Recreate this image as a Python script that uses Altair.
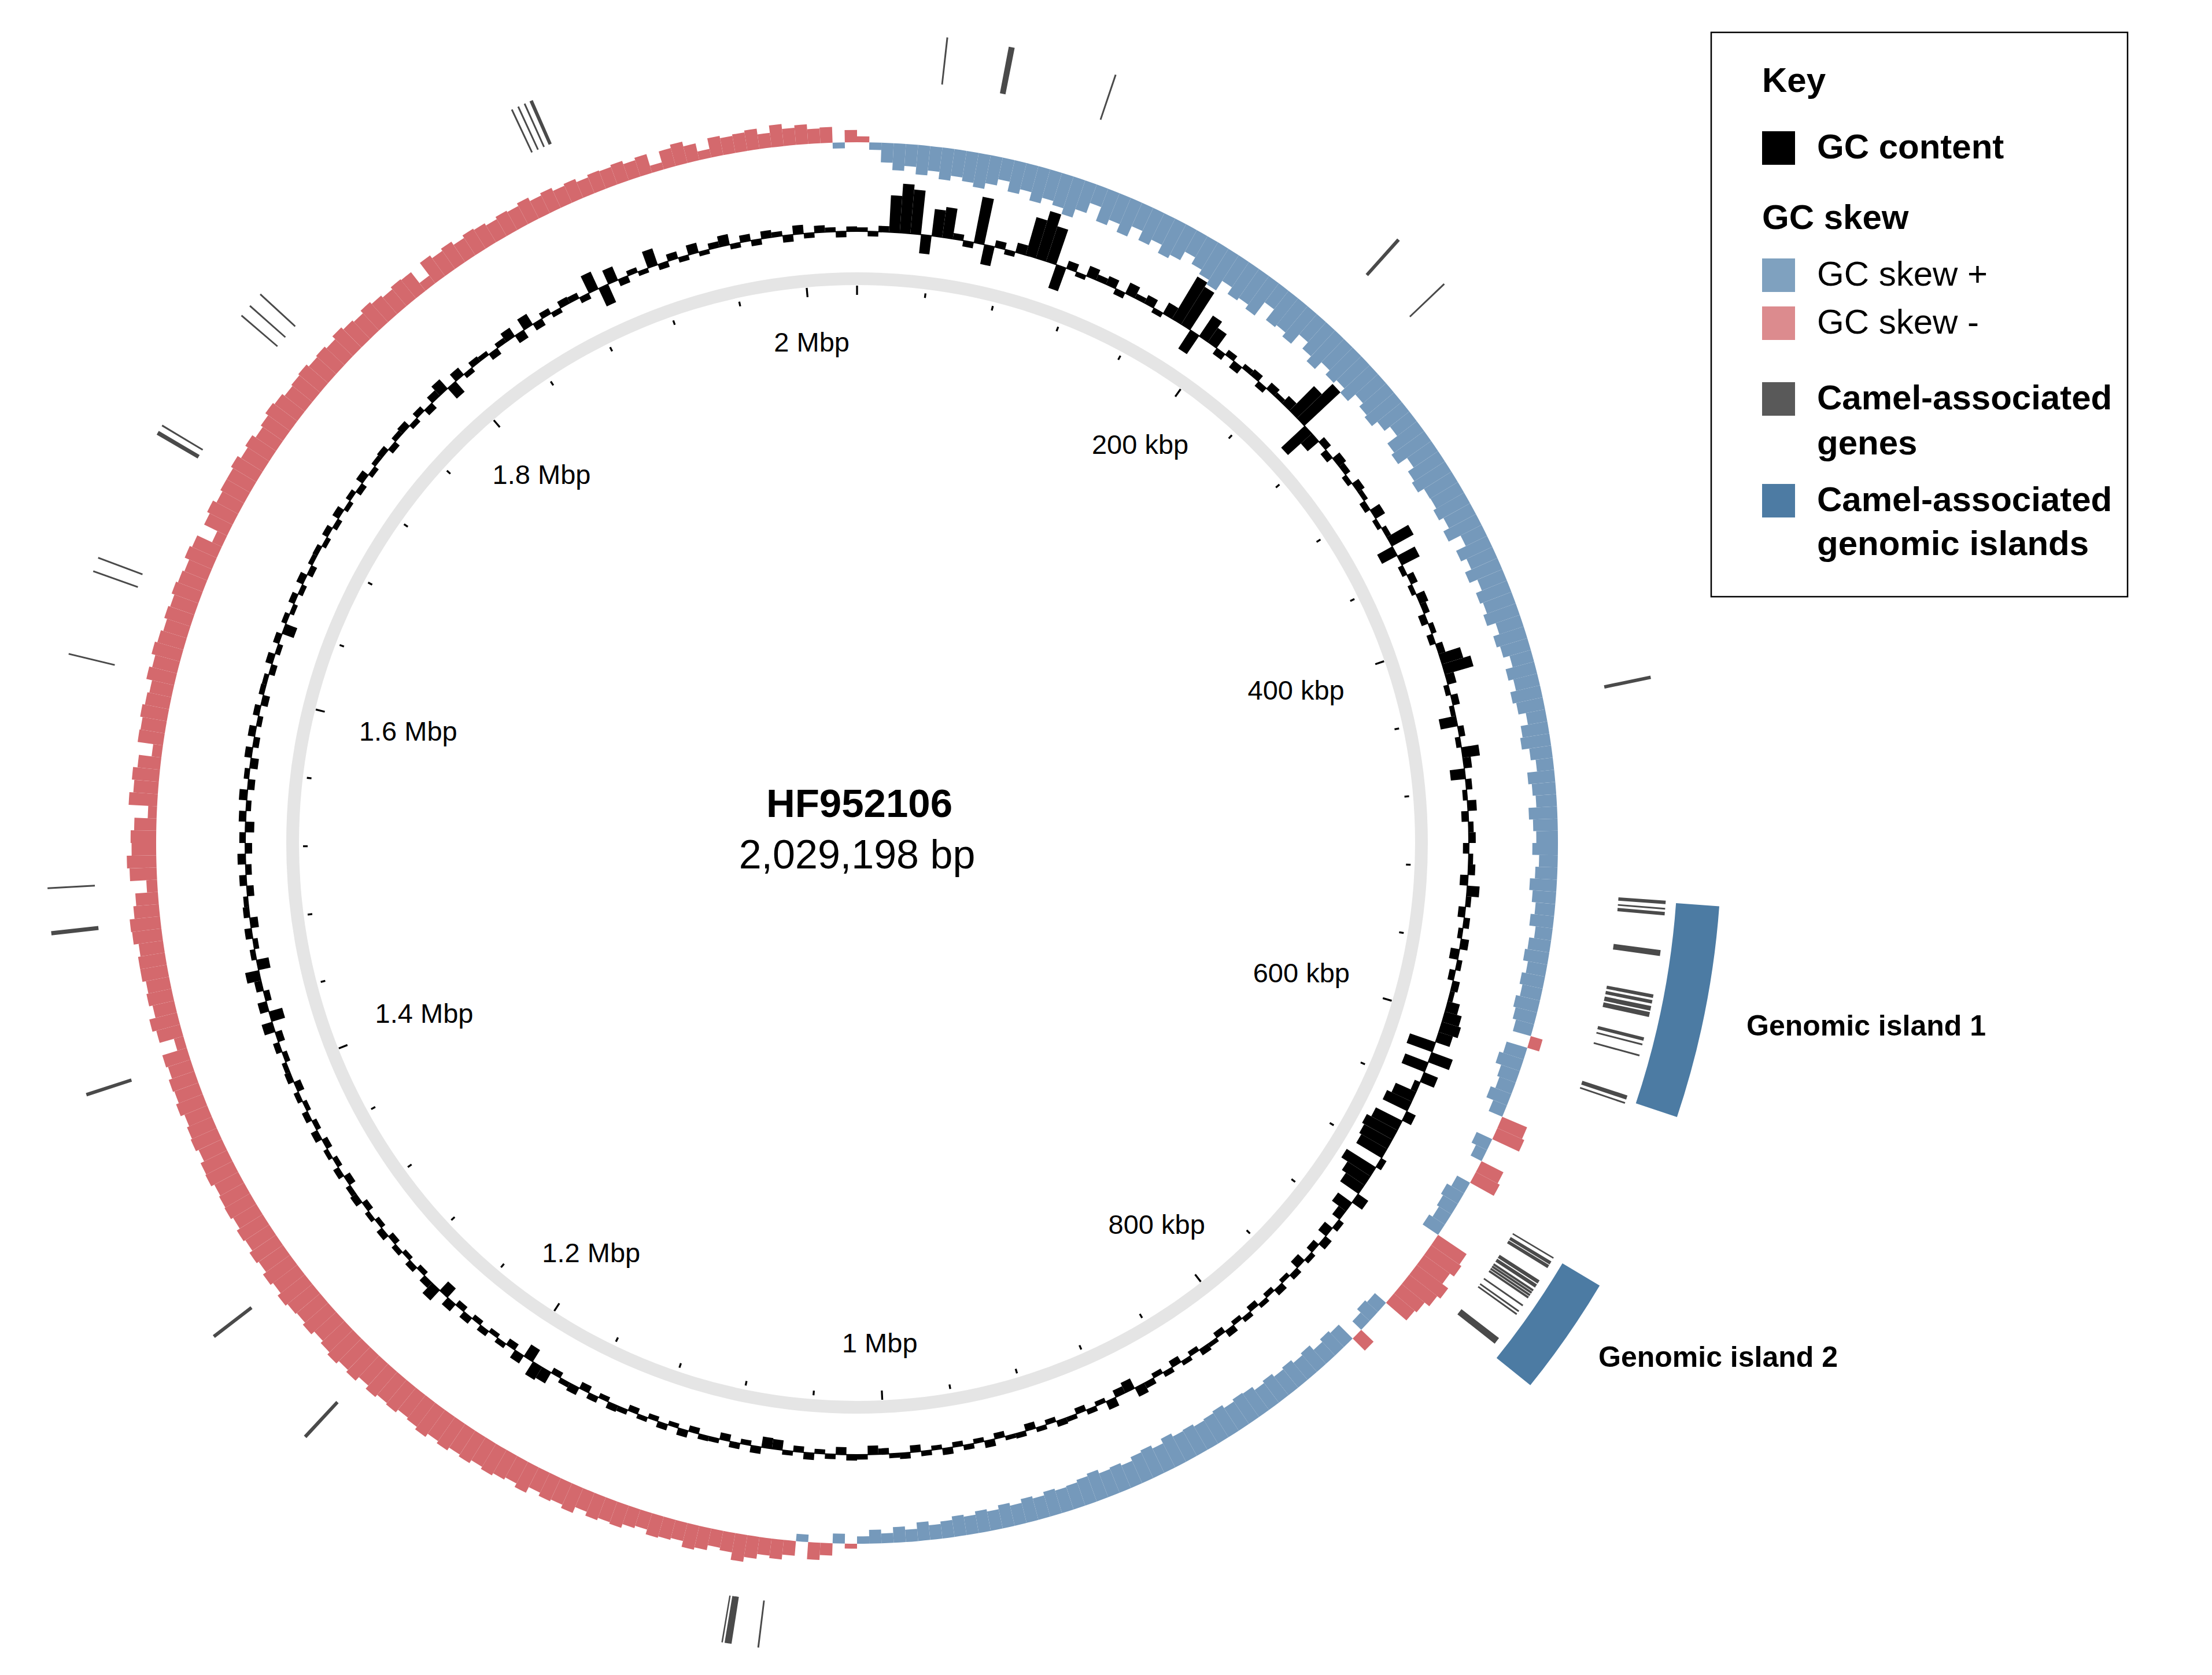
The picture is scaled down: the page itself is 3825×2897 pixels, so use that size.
import math
import pandas as pd
import altair as alt

# ---------------- data ----------------
GENOME_LENGTH = 2029198
SEQ_NAME = "HF952106"
SEQ_LEN_LABEL = "2,029,198 bp"

# GC content deviation, one value per 1/360 of the genome (clockwise from 0)
gc_content = [
    8, -10, 12, 75, 100, 90, -38, 55, 62, 12,
    -12, 95, -40, 14, -10, 20, 80, 100, 75, -50,
    16, -9, 22, 12, 18, -12, 24, 10, 18, -10,
    25, 100, 90, -45, 50, 35, -14, 12, -16, 10,
    14, -12, 16, 9, 20, 70, 100, -65, -30, 14,
    -14, 18, 12, -10, 16, 9, -12, 22, -9, 10,
    50, -35, 40, -10, 14, -9, 18, 12, -14, 10,
    -12, 14, 45, 60, 18, -10, 14, -9, -35, 12,
    -10, 35, 16, -30, 12, -9, 18, -14, 10, 14,
    -12, 9, 14, -16, 25, 10, -14, 12, -9, 16,
    -18, 10, -12, 14, 9, 25, 35, 40, 30, -55,
    45, -50, 30, -12, -45, -55, 20, -60, -70, -65,
    -60, 12, -70, -55, -45, 25, -35, -18, 12, -20,
    16, -14, 10, -18, 12, -9, 14, -10, 9, -12,
    10, -9, 14, -12, 8, 13, -10, 9, -14, 10,
    -10, 12, 20, -22, -15, 18, -9, 10, -12, 9,
    12, -10, 9, -14, 10, 8, -12, 14, -9, 10,
    -10, 13, -9, 10, -14, 12, 9, -12, -18, 10,
    12, -15, 10, -9, 14, -12, 9, -20, -22, 14,
    -10, 12, -14, 9, 10, -12, 14, -9, 12, -10,
    9, -12, 10, 13, -10, 12, -14, 16, 10, -12,
    25, 30, -28, 18, -14, 10, -9, 12, -10, 14,
    -12, 18, -25, 28, 14, -10, 12, -9, 10, -12,
    13, -10, 9, -12, 14, 10, -14, 12, -10, 9,
    -12, 14, -10, 12, -9, 10, -14, 12, 9, -10,
    12, -14, 22, -28, 18, -12, 14, 28, -25, 10,
    -10, 14, -16, 12, 9, -14, 14, -12, 16, -14,
    12, -18, 14, -10, 16, -14, 10, -16, 14, -12,
    14, -10, 12, -14, 10, 9, -12, 14, -10, 12,
    -25, 10, -9, 12, -10, 14, -12, 9, 10, -9,
    12, -10, 14, -9, 10, -12, 15, -10, 9, 12,
    -12, 10, 14, -10, 12, -14, 15, 25, -28, 18,
    -10, 12, 9, -14, 10, 20, -18, 25, -15, 12,
    -10, 14, 12, -12, 38, -40, 30, -14, 10, -9,
    35, -12, 14, -10, 20, -9, 12, 22, -10, 14,
    -12, 15, 10, -14, 18, -10, 14, 9, -12, 10,
]

# GC skew, same bins (positive = blue, drawn inward; negative = red, drawn outward)
gc_skew = [
    -12, 15, 40, 55, 45, 60, 50, 65, 55, 62,
    70, 58, 45, 65, 55, 72, 60, 68, 80, 62,
    40, 70, 58, 75, 52, 72, 60, 78, 70, 50,
    65, 75, 85, 62, 78, 72, 82, 48, 75, 70,
    80, 55, 72, 85, 66, 78, 70, 82, 62, 72,
    78, 64, 50, 75, 82, 60, 74, 80, 66, 65,
    72, 62, 75, 48, 70, 58, 72, 55, 68, 62,
    70, 52, 65, 58, 45, 60, 50, 62, 55, 40,
    55, 60, 45, 35, 55, 48, 42, 58, 50, 44,
    52, 38, 45, 55, 48, 40, 48, 35, 45, 50,
    40, 48, 42, 50, 45, 38, -25, 44, 52, 40,
    35, 45, 30, -55, -60, 35, 25, -50, -55, 30,
    40, 35, 30, 38, -70, -75, -65, -80, -72, -60,
    -55, 30, 35, 25, -35, 40, 45, 38, 50, 45,
    52, 48, 55, 50, 58, 60, 55, 62, 58, 55,
    60, 58, 65, 55, 62, 58, 50, 55, 52, 60,
    55, 50, 48, 52, 45, 50, 42, 48, 40, 45,
    38, 42, 35, 30, 38, 25, 32, 20, 28, 15,
    -10, 20, -25, -35, 15, -30, -40, -35, -45, -55,
    -40, -35, -45, -50, -38, -42, -45, -35, -40, -48,
    -45, -50, -42, -55, -48, -52, -45, -58, -50, -55,
    -60, -55, -62, -58, -65, -60, -68, -62, -58, -65,
    -62, -68, -60, -70, -65, -72, -66, -60, -68, -62,
    -65, -70, -62, -68, -60, -65, -58, -62, -55, -60,
    -58, -55, -62, -60, -52, -58, -55, -50, -58, -52,
    -55, -48, -52, -20, -50, -58, -45, -52, -48, -55,
    -55, -50, -60, -62, -52, -46, -22, -55, -60, -50,
    -52, -45, -18, -58, -50, -55, -46, -20, -52, -50,
    -55, -50, -46, -58, -52, -60, -55, -50, -56, -52,
    -58, -54, -50, -60, -55, -22, -52, -58, -50, -55,
    -55, -60, -52, -58, -50, -55, -62, -58, -52, -55,
    -58, -52, -55, -50, -58, -52, -48, -55, -50, -45,
    -50, -48, -20, -52, -45, -50, -42, -48, -45, -40,
    -45, -42, -48, -40, -45, -38, -42, -35, -40, -38,
    -42, -35, -40, -15, -38, -45, -35, -18, -40, -35,
    -38, -42, -30, -45, -35, -40, -30, -32, 12, -25,
]

major_tick_bp = [0, 200000, 400000, 600000, 800000, 1000000,
                 1200000, 1400000, 1600000, 1800000, 2000000]
major_tick_labels = ["", "200 kbp", "400 kbp", "600 kbp", "800 kbp", "1 Mbp",
                     "1.2 Mbp", "1.4 Mbp", "1.6 Mbp", "1.8 Mbp", "2 Mbp"]
minor_tick_bp = [p for p in range(40000, 2000000, 40000) if p % 200000 != 0]

# camel-associated genes (start, end in bp)
camel_genes = [
    (35700, 36400), (60800, 63200), (104500, 105200), (235500, 236900),
    (261200, 261900), (440100, 441500),
    (530300, 531700), (533200, 533900), (534800, 536200), (550100, 552500),
    (568000, 569400), (570300, 571700), (572700, 574600), (575200, 577200),
    (585500, 586900), (588100, 588800), (592600, 593300), (609600, 611300),
    (612400, 613100),
    (680600, 681200), (682500, 683900), (684200, 685600), (691400, 692900),
    (693300, 694800), (695700, 696600), (696800, 697700), (697950, 698850),
    (699100, 700000), (703100, 703800), (705900, 706600), (707300, 708000),
    (719500, 722300),
    (1053700, 1054400), (1064800, 1067600), (1068300, 1068900),
    (1255700, 1257100), (1309800, 1311200), (1419200, 1420600),
    (1485000, 1486700), (1503500, 1504200), (1597600, 1598300),
    (1632000, 1632700), (1637700, 1638400), (1692400, 1694100),
    (1696300, 1697000), (1750400, 1751100), (1755500, 1756200),
    (1761700, 1762400), (1886800, 1887500), (1889600, 1890300),
    (1892400, 1893100), (1894900, 1896300),
]

island_labels = ["Genomic island 1", "Genomic island 2"]
island_start = [531000, 680900]
island_end = [611500, 726300]

legend_items = ["GC content", "GC skew +", "GC skew -",
                "Camel-associated genes", "Camel-associated genomic islands"]

# ---------------- styles / layout ----------------
FONT = "Liberation Sans"
C_BLUE_BAR = "#7599BB"
C_RED_BAR = "#D4696D"
C_GENE = "#4A4A4A"
C_ISLAND = "#4C7BA3"
C_RING = "#E5E5E5"
legend_colors = ["#000000", "#7FA1BF", "#DC8B8E", "#595959", "#4D7BA3"]

CX, CY = 1474, 1450
theta_scale = alt.Scale(domain=[0, GENOME_LENGTH], range=[0, 2 * math.pi])


def centred(ch):
    return ch.encode(x=alt.value(CX), y=alt.value(CY))


n = len(gc_content)
bins = pd.DataFrame({
    "start": [i * GENOME_LENGTH / n for i in range(n)],
    "end": [(i + 1) * GENOME_LENGTH / n for i in range(n)],
    "gc": gc_content,
    "skew": gc_skew,
})

layers = []

# backbone ring
ring = pd.DataFrame({"start": [0], "end": [GENOME_LENGTH]})
layers.append(centred(alt.Chart(ring).mark_arc(color=C_RING).encode(
    theta=alt.Theta("start:Q", scale=theta_scale, stack=None),
    theta2="end:Q",
    radius=alt.value(987), radius2=alt.value(965))))

# ticks
major_df = pd.DataFrame({"pos": major_tick_bp, "label": major_tick_labels})
minor_df = pd.DataFrame({"pos": minor_tick_bp})
layers.append(centred(alt.Chart(major_df).transform_calculate(
    t0="datum.pos - 560", t1="datum.pos + 560").mark_arc(color="black").encode(
    theta=alt.Theta("t0:Q", scale=theta_scale, stack=None), theta2="t1:Q",
    radius=alt.value(964), radius2=alt.value(948))))
layers.append(centred(alt.Chart(minor_df).transform_calculate(
    t0="datum.pos - 560", t1="datum.pos + 560").mark_arc(color="black").encode(
    theta=alt.Theta("t0:Q", scale=theta_scale, stack=None), theta2="t1:Q",
    radius=alt.value(958), radius2=alt.value(950))))

# tick labels
layers.append(centred(alt.Chart(major_df).transform_filter("datum.label != ''")
    .transform_calculate(
        t="datum.pos / %d * 2 * PI" % GENOME_LENGTH,
        hw="length(datum.label) * 0.26 * 47",
        rl="868 - 0.85 * datum.hw * pow(sin(datum.t), 2)")
    .mark_text(font=FONT, fontSize=47, align="center", baseline="middle", color="black")
    .encode(theta=alt.Theta("pos:Q", scale=theta_scale, stack=None),
            radius=alt.Radius("rl:Q", scale=None),
            text="label:N")))

# GC content baseline + bars
layers.append(centred(alt.Chart(ring).mark_arc(color="black").encode(
    theta=alt.Theta("start:Q", scale=theta_scale, stack=None), theta2="end:Q",
    radius=alt.value(1059), radius2=alt.value(1057))))
layers.append(centred(alt.Chart(bins).transform_calculate(base="0").mark_arc(color="black").encode(
    theta=alt.Theta("start:Q", scale=theta_scale, stack=None), theta2="end:Q",
    radius=alt.Radius("gc:Q", scale=alt.Scale(type="linear", domain=[-100, 100],
                                              range=[1058 - 85, 1058 + 85], zero=False, nice=False)),
    radius2=alt.Radius2("base:Q"))))

# GC skew
layers.append(centred(alt.Chart(bins).transform_calculate(base="0").mark_arc().encode(
    theta=alt.Theta("start:Q", scale=theta_scale, stack=None), theta2="end:Q",
    radius=alt.Radius("skew:Q", scale=alt.Scale(type="linear", domain=[-100, 100],
                                                range=[1212 + 85, 1212 - 85], zero=False, nice=False)),
    radius2=alt.Radius2("base:Q"),
    color=alt.condition("datum.skew >= 0", alt.value(C_BLUE_BAR), alt.value(C_RED_BAR)))))

# camel-associated genes
genes_df = pd.DataFrame({"start": [g[0] for g in camel_genes], "end": [g[1] for g in camel_genes]})
layers.append(centred(alt.Chart(genes_df).mark_arc(color=C_GENE).encode(
    theta=alt.Theta("start:Q", scale=theta_scale, stack=None), theta2="end:Q",
    radius=alt.value(1402), radius2=alt.value(1320))))

# genomic islands
islands_df = pd.DataFrame({"label": island_labels, "start": island_start, "end": island_end})
layers.append(centred(alt.Chart(islands_df).mark_arc(color=C_ISLAND).encode(
    theta=alt.Theta("start:Q", scale=theta_scale, stack=None), theta2="end:Q",
    radius=alt.value(1495), radius2=alt.value(1420))))


def text_layer(txt, x, y, size, bold, align="left"):
    return alt.Chart(pd.DataFrame({"t": [txt]})).mark_text(
        font=FONT, fontSize=size, fontWeight="bold" if bold else "normal",
        align=align, baseline="middle", color="black").encode(
        x=alt.value(x), y=alt.value(y), text="t:N")


# centre title
layers.append(text_layer(SEQ_NAME, CX + 4, 1384, 69, True, "center"))
layers.append(text_layer(SEQ_LEN_LABEL, CX, 1473, 70, False, "center"))

# island labels
layers.append(text_layer(island_labels[0], 3012, 1768, 50, True))
layers.append(text_layer(island_labels[1], 2756, 2341, 50, True))

# legend
one = pd.DataFrame({"a": [0]})
layers.append(alt.Chart(one).mark_rect(fill="white", stroke="black", strokeWidth=2.5).encode(
    x=alt.value(2951), x2=alt.value(3671), y=alt.value(48), y2=alt.value(1024)))
sq_y = [248, 468, 551, 682, 858]
for col, yc in zip(legend_colors, sq_y):
    layers.append(alt.Chart(one).mark_rect(color=col).encode(
        x=alt.value(3039), x2=alt.value(3096), y=alt.value(yc - 29), y2=alt.value(yc + 29)))
layers.append(text_layer("Key", 3039, 133, 60, True))
layers.append(text_layer("GC skew", 3039, 370, 60, True))
layers.append(text_layer(legend_items[0], 3134, 248, 60, True))
layers.append(text_layer(legend_items[1], 3134, 468, 60, False))
layers.append(text_layer(legend_items[2], 3134, 551, 60, False))
layers.append(text_layer("Camel-associated", 3134, 682, 60, True))
layers.append(text_layer("genes", 3134, 760, 60, True))
layers.append(text_layer("Camel-associated", 3134, 858, 60, True))
layers.append(text_layer("genomic islands", 3134, 934, 60, True))

chart = alt.layer(*layers).resolve_scale(radius="independent").properties(
    width=3800, height=2875, padding=0
).configure_view(stroke=None)

chart.save("out.html", embed_options={"renderer": "svg", "actions": False})
